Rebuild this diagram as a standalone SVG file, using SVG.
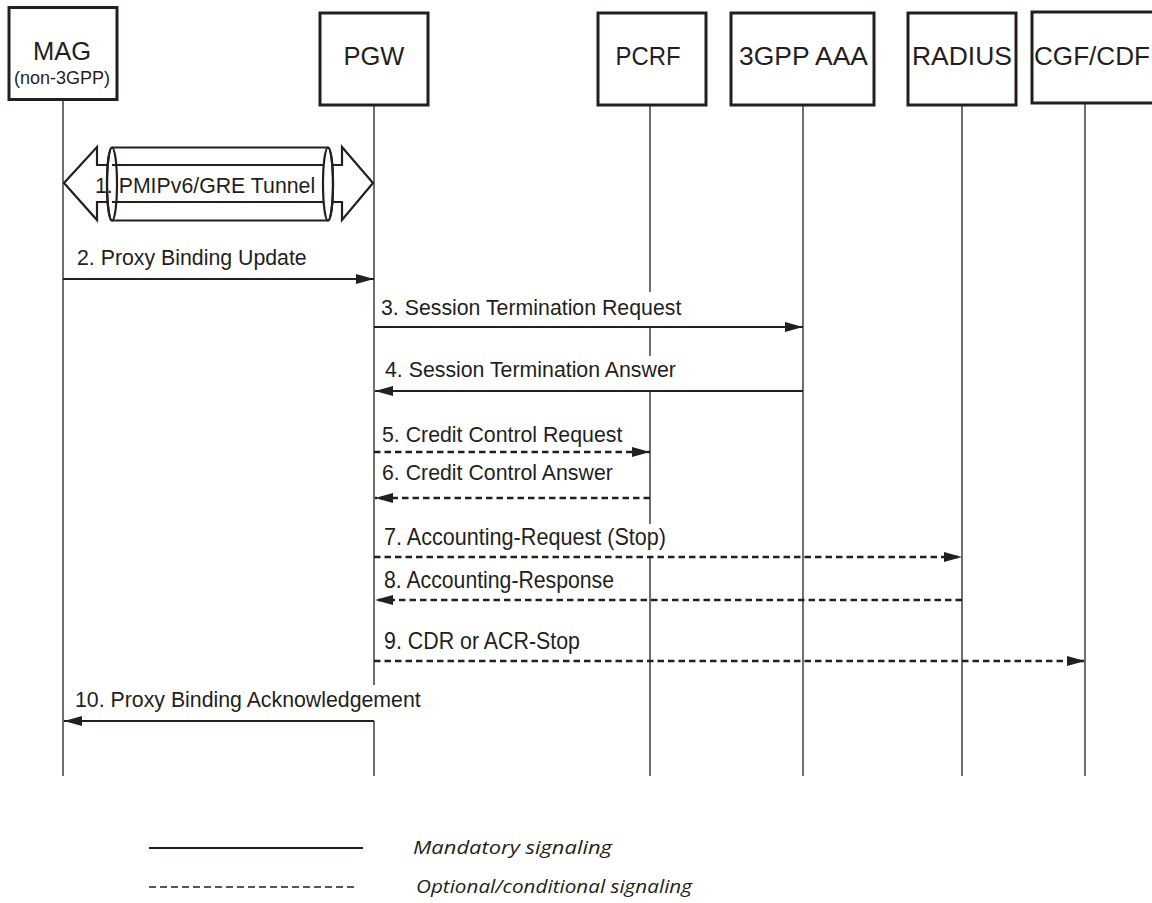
<svg xmlns="http://www.w3.org/2000/svg" width="1152" height="903" viewBox="0 0 1152 903">
  <style>
    .box { fill: #ffffff; stroke: #231f20; stroke-width: 3; }
    .name { font-family: "Liberation Sans", Arial, sans-serif; font-size: 25.5px; fill: #231f20; text-anchor: middle; }
    .sub { font-family: "Liberation Sans", Arial, sans-serif; font-size: 18px; fill: #231f20; text-anchor: middle; }
    .life { stroke: #231f20; stroke-width: 1.3; fill: none; }
    .msg { stroke: #231f20; stroke-width: 2.2; fill: none; }
    .opt { stroke: #231f20; stroke-width: 2.5; fill: none; stroke-dasharray: 6.5 4; }
    .lbl { font-family: "Liberation Sans", Arial, sans-serif; font-size: 21.3px; fill: #231f20; }
    .lbln { font-family: "Liberation Sans", Arial, sans-serif; font-size: 24px; fill: #231f20; }
    .legend { font-family: "Open Sans", "Liberation Sans", sans-serif; font-style: italic; font-size: 19px; fill: #231f20; }
    .tube { fill: #ffffff; stroke: #231f20; stroke-width: 2.2; }
  </style>
  <defs>
    <marker id="head" markerUnits="userSpaceOnUse" markerWidth="20" markerHeight="12" refX="18" refY="5" orient="auto">
      <path d="M0,0 L18,5 L0,10 Z" fill="#231f20"/>
    </marker>
  </defs>

  <rect width="1152" height="903" fill="#ffffff"/>

  <!-- lifelines (broken where message labels sit on top of them) -->
  <g id="lifelines">
    <line class="life" x1="63" y1="100" x2="63" y2="776"/>
    <line class="life" x1="374" y1="105" x2="374" y2="685"/>
    <line class="life" x1="374" y1="721" x2="374" y2="776"/>
    <line class="life" x1="650" y1="105" x2="650" y2="292"/>
    <line class="life" x1="650" y1="328" x2="650" y2="356"/>
    <line class="life" x1="650" y1="392" x2="650" y2="524"/>
    <line class="life" x1="650" y1="558" x2="650" y2="776"/>
    <line class="life" x1="803" y1="105" x2="803" y2="776"/>
    <line class="life" x1="962" y1="105" x2="962" y2="776"/>
    <line class="life" x1="1085" y1="103" x2="1085" y2="776"/>
  </g>

  <!-- entities -->
  <g id="node-mag">
    <rect class="box" x="9" y="7.5" width="108" height="92"/>
    <text class="name" x="62" y="60">MAG</text>
    <text class="sub" x="62" y="84">(non-3GPP)</text>
  </g>
  <g id="node-pgw">
    <rect class="box" x="320" y="13" width="108" height="92"/>
    <text class="name" x="374" y="65">PGW</text>
  </g>
  <g id="node-pcrf">
    <rect class="box" x="598" y="13" width="108" height="92"/>
    <text class="name" x="648" y="65" textLength="65" lengthAdjust="spacingAndGlyphs">PCRF</text>
  </g>
  <g id="node-aaa">
    <rect class="box" x="731" y="13" width="143" height="92"/>
    <text class="name" x="803.5" y="65" textLength="129" lengthAdjust="spacingAndGlyphs">3GPP AAA</text>
  </g>
  <g id="node-radius">
    <rect class="box" x="908" y="13" width="108" height="92"/>
    <text class="name" x="962" y="65" textLength="100" lengthAdjust="spacingAndGlyphs">RADIUS</text>
  </g>
  <g id="node-cgf">
    <rect class="box" x="1032" y="12" width="126" height="91"/>
    <text class="name" x="1092" y="65" textLength="116" lengthAdjust="spacingAndGlyphs">CGF/CDF</text>
  </g>

  <!-- step 1: PMIPv6/GRE tunnel between MAG and PGW -->
  <g id="tunnel">
    <path class="tube" d="M64,183 L97,147 L97,165 L342,165 L342,147 L373,183 L342,220 L342,202 L97,202 L97,220 Z"/>
    <path class="tube" d="M112,147.5 L328,147.5 A5,36.5 0 0 1 328,220.5 L112,220.5 A5,36.5 0 0 1 112,147.5 Z"/>
    <line class="msg" x1="112" y1="165" x2="323" y2="165"/>
    <line class="msg" x1="112" y1="202" x2="323" y2="202"/>
    <ellipse cx="112" cy="184" rx="5" ry="36.5" fill="none" stroke="#231f20" stroke-width="2.2"/>
    <ellipse cx="328" cy="184" rx="5" ry="36.5" fill="none" stroke="#231f20" stroke-width="2.2"/>
    <text class="lbl" x="95" y="193">1. PMIPv6/GRE Tunnel</text>
  </g>

  <!-- signalling messages -->
  <g id="connectors">
    <line class="msg" x1="63" y1="279" x2="374" y2="279" marker-end="url(#head)"/>
    <line class="msg" x1="374" y1="327" x2="803" y2="327" marker-end="url(#head)"/>
    <line class="msg" x1="803" y1="391" x2="375" y2="391" marker-end="url(#head)"/>
    <line class="opt" x1="374" y1="452" x2="650" y2="452" marker-end="url(#head)"/>
    <line class="opt" x1="650" y1="498" x2="375" y2="498" marker-end="url(#head)"/>
    <line class="opt" x1="374" y1="557" x2="962" y2="557" marker-end="url(#head)"/>
    <line class="opt" x1="962" y1="600" x2="375" y2="600" marker-end="url(#head)"/>
    <line class="opt" x1="374" y1="661" x2="1085" y2="661" marker-end="url(#head)"/>
    <line class="msg" x1="374" y1="721" x2="64" y2="721" marker-end="url(#head)"/>
  </g>

  <g id="labels">
    <text class="lbl" x="77" y="265">2. Proxy Binding Update</text>
    <text class="lbl" x="381" y="315">3. Session Termination Request</text>
    <text class="lbl" x="385" y="377">4. Session Termination Answer</text>
    <text class="lbl" x="382" y="442">5. Credit Control Request</text>
    <text class="lbl" x="382" y="480">6. Credit Control Answer</text>
    <text class="lbln" x="384" y="545" textLength="282" lengthAdjust="spacingAndGlyphs">7. Accounting-Request (Stop)</text>
    <text class="lbln" x="384" y="588" textLength="230" lengthAdjust="spacingAndGlyphs">8. Accounting-Response</text>
    <text class="lbln" x="384" y="649" textLength="196" lengthAdjust="spacingAndGlyphs">9. CDR or ACR-Stop</text>
    <text class="lbl" x="75" y="707">10. Proxy Binding Acknowledgement</text>
  </g>

  <!-- legend -->
  <g id="legend">
    <line x1="149" y1="848" x2="363" y2="848" stroke="#231f20" stroke-width="2.2"/>
    <text class="legend" x="413" y="854" textLength="199" lengthAdjust="spacingAndGlyphs">Mandatory signaling</text>
    <line x1="149" y1="887" x2="358" y2="887" stroke="#231f20" stroke-width="1.6" stroke-dasharray="7 4"/>
    <text class="legend" x="416" y="893" textLength="276" lengthAdjust="spacingAndGlyphs">Optional/conditional signaling</text>
  </g>
</svg>
